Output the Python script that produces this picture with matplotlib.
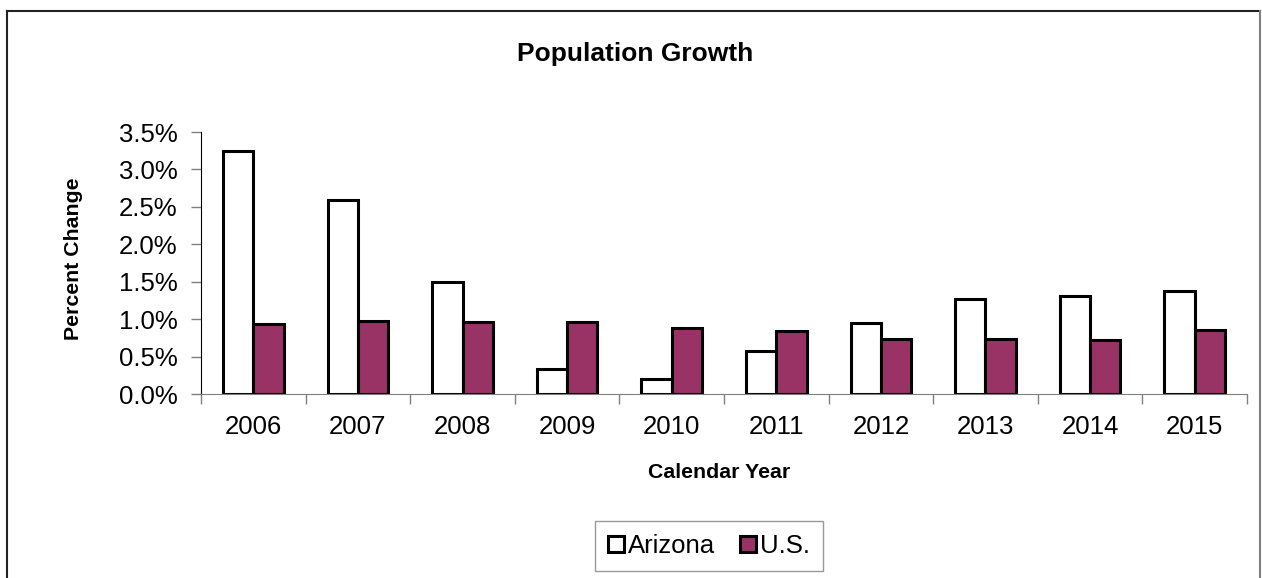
import numpy as np
import matplotlib.pyplot as plt
from matplotlib.lines import Line2D
from matplotlib.ticker import FuncFormatter

plt.rcParams['font.family'] = ['Liberation Sans', 'DejaVu Sans']

years = ['2006', '2007', '2008', '2009', '2010', '2011', '2012', '2013', '2014', '2015']
arizona = [3.24, 2.59, 1.49, 0.33, 0.20, 0.58, 0.95, 1.27, 1.31, 1.37]
us = [0.93, 0.97, 0.96, 0.96, 0.88, 0.84, 0.73, 0.74, 0.72, 0.86]

fig = plt.figure(figsize=(12.62, 5.78), dpi=100)
ax = fig.add_axes([0.1593, 0.3183, 0.8288, 0.4533])

x = np.arange(len(years))
w = 0.29
ax.bar(x - w / 2, arizona, w, color='white', edgecolor='black', linewidth=2.2, label='Arizona')
ax.bar(x + w / 2, us, w, color='#993366', edgecolor='black', linewidth=2.2, label='U.S.')

ax.set_xlim(-0.5, len(years) - 0.5)
ax.set_ylim(0, 3.5)
ax.set_yticks(np.arange(0, 3.51, 0.5))
ax.yaxis.set_major_formatter(FuncFormatter(lambda v, p: f'{v:.1f}%'))
ax.set_xticks(x)
ax.set_xticklabels(years)
ax.set_xticks(np.arange(-0.5, len(years)), minor=True)
ax.tick_params(axis='x', which='major', length=0, labelsize=18.5, pad=15)
ax.tick_params(axis='x', which='minor', length=7, color='#808080', width=1)
ax.tick_params(axis='y', length=7, color='#808080', width=1, labelsize=18.5, pad=10)

for s in ['top', 'right']:
    ax.spines[s].set_visible(False)
ax.spines['left'].set_color('black')
ax.spines['bottom'].set_color('#808080')

fig.text(0.5036, 0.907, 'Population Growth', ha='center', va='center',
         fontsize=19, fontweight='bold')
fig.text(0.5697, 0.183, 'Calendar Year', ha='center', va='center',
         fontsize=15.3, fontweight='bold')
fig.text(0.058, 0.552, 'Percent Change', ha='center', va='center',
         rotation=90, fontsize=15.3, fontweight='bold')

leg = fig.legend(loc='center', bbox_to_anchor=(0.5618, 0.055), ncol=2,
                 frameon=True, fancybox=False, fontsize=18.5,
                 handlelength=0.6, handleheight=0.6, handletextpad=0.15,
                 columnspacing=1.0, borderpad=0.5)
leg.get_frame().set_edgecolor('#808080')
leg.get_frame().set_linewidth(1)

# outer chart border (open at the bottom)
fig.add_artist(Line2D([7 / 1262, 7 / 1262], [0, 1 - 11 / 578], color='#222222', lw=1.5))
fig.add_artist(Line2D([7 / 1262, 1260 / 1262], [1 - 11 / 578, 1 - 11 / 578], color='#222222', lw=1.5))
fig.add_artist(Line2D([1260 / 1262, 1260 / 1262], [0, 1 - 11 / 578], color='#808080', lw=1.5))

fig.savefig('out.png', dpi=100)
